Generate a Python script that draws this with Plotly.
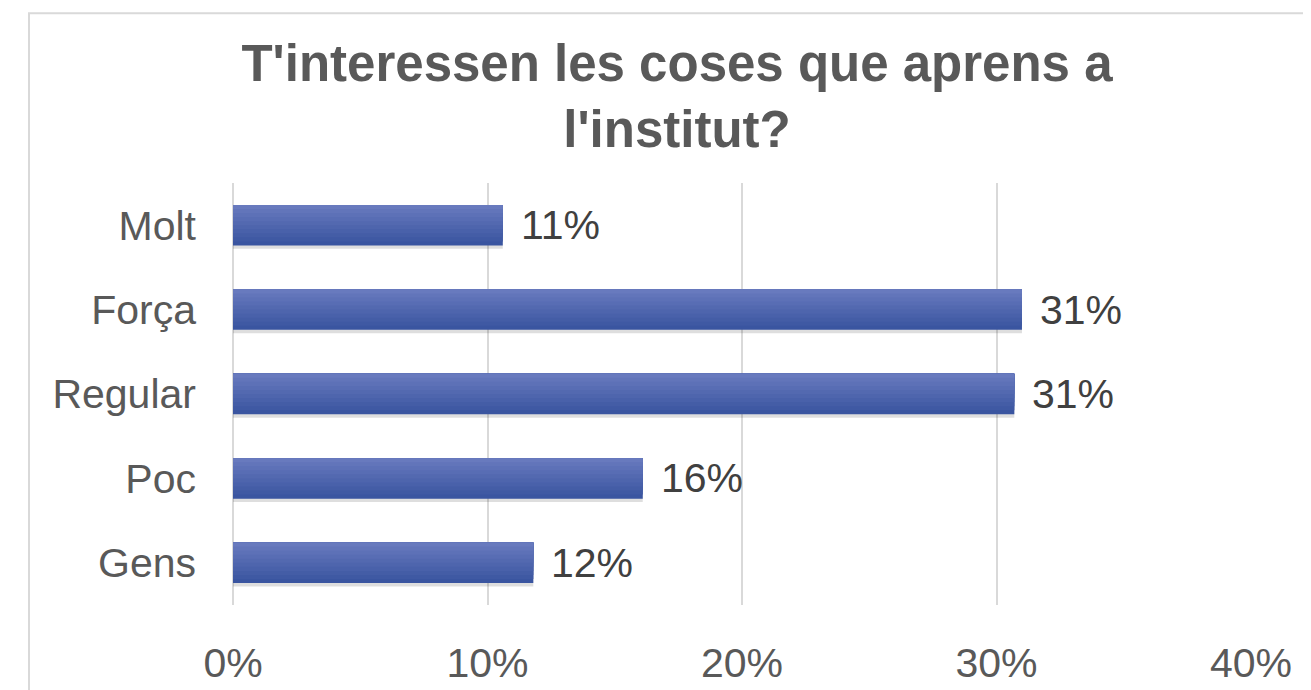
import plotly.graph_objects as go

categories = ["Molt", "Força", "Regular", "Poc", "Gens"]
values = [10.6, 31.0, 30.7, 16.1, 11.8]
value_labels = ["11%", "31%", "31%", "16%", "12%"]
x_ticks = [0, 10, 20, 30, 40]
x_tick_text = ["0%", "10%", "20%", "30%", "40%"]

FONT = "Liberation Sans, Arial, sans-serif"
BAR_H = 0.48

fig = go.Figure()

# soft shadow under the bars
fig.add_trace(go.Bar(
    y=categories, x=values, orientation="h",
    width=BAR_H, offset=-BAR_H / 2 + 0.04,
    marker=dict(color="rgba(0,0,0,0.13)", line_width=0),
    hoverinfo="skip", showlegend=False,
))

# vertical gradient: dark bottom -> light top, layered bars sharing the top edge
dark = (58, 85, 160)
light = (104, 122, 190)
steps = 10
for i in range(steps):
    t = i / (steps - 1)
    col = tuple(int(dark[k] + (light[k] - dark[k]) * t) for k in range(3))
    w = BAR_H * (1 - i / steps)
    fig.add_trace(go.Bar(
        y=categories, x=values, orientation="h",
        width=w, offset=-BAR_H / 2,
        marker=dict(color="rgb(%d,%d,%d)" % col, line_width=0),
        hoverinfo="skip", showlegend=False,
    ))

for cat, v, lab in zip(categories, values, value_labels):
    fig.add_annotation(
        x=v, y=cat, text=lab, showarrow=False,
        xanchor="left", yanchor="middle", xshift=16,
        font=dict(family=FONT, size=41, color="#404040"),
    )

fig.update_layout(
    width=1311, height=690,
    barmode="overlay",
    plot_bgcolor="white", paper_bgcolor="white",
    margin=dict(l=225, r=68, t=175, b=90),
    title=dict(
        text="T'interessen les coses que aprens a<br>l'institut?",
        x=669 / 1311, xanchor="center", xref="container",
        y=1 - 73 / 690, yanchor="top", yref="container",
        font=dict(family=FONT, size=51, color="#595959", weight="bold"),
    ),
    xaxis=dict(
        range=[0, 40], tickvals=x_ticks, ticktext=x_tick_text,
        showgrid=True, gridcolor="#d9d9d9", gridwidth=2,
        zeroline=True, zerolinecolor="#d9d9d9", zerolinewidth=2,
        showline=False, ticks="",
        tickfont=dict(family=FONT, size=41, color="#595959"),
        ticklabelstandoff=30,
    ),
    yaxis=dict(
        categoryorder="array", categoryarray=categories,
        autorange="reversed",
        showgrid=False, zeroline=False, showline=False, ticks="",
        tickfont=dict(family=FONT, size=41, color="#595959"),
        ticklabelstandoff=36,
    ),
    shapes=[dict(
        type="rect", xref="paper", yref="paper",
        x0=-0.2004, x1=1.2, y0=-0.4, y1=1.4024,
        line=dict(color="#d9d9d9", width=2), fillcolor="rgba(0,0,0,0)",
        layer="below",
    )],
)

fig.write_html("out.html")
